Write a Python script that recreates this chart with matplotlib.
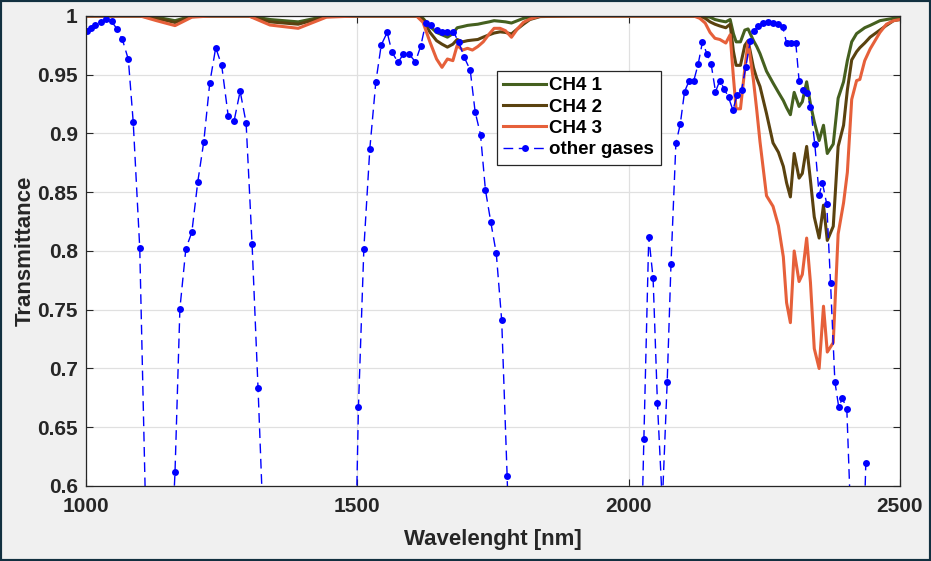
import matplotlib
matplotlib.use("Agg")
import matplotlib.pyplot as plt
from matplotlib.patches import Rectangle

# CH4 transmittance curves (shared wavelength grid, nm)
ch4_wl = [1000, 1100, 1130, 1164, 1195, 1230, 1300, 1339, 1391, 1443, 1500,
          1609, 1621, 1634, 1646, 1656, 1666, 1676, 1684, 1694, 1703, 1712,
          1722, 1732, 1743, 1752, 1763, 1773, 1784, 1795, 1806, 1818, 1837,
          1900, 2000, 2120, 2131, 2141, 2150, 2159, 2168, 2179, 2187, 2193,
          2198, 2206, 2214, 2220, 2230, 2236, 2242, 2254, 2266, 2276, 2285,
          2291, 2298, 2305, 2314, 2320, 2328, 2335, 2342, 2351, 2359, 2366,
          2377, 2386, 2396, 2403, 2411, 2420, 2426, 2435, 2445, 2454, 2463,
          2475, 2488, 2500]
ch4_1 = [1.0, 1.0, 0.999, 0.996, 1.0, 1.0, 1.0, 0.997, 0.995, 1.0, 1.0,
         1.0, 0.998, 0.991, 0.986, 0.984, 0.982, 0.985, 0.990, 0.991, 0.992, 0.9925,
         0.993, 0.994, 0.995, 0.996, 0.9955, 0.995, 0.994, 0.996, 0.998, 0.999, 1.0,
         1.0, 1.0, 1.0, 1.0, 0.9995, 0.999, 0.997, 0.996, 0.995, 0.997, 0.985,
         0.978, 0.978, 0.988, 0.989, 0.979, 0.974, 0.968, 0.953, 0.943, 0.935, 0.928,
         0.922, 0.916, 0.935, 0.923, 0.927, 0.944, 0.925, 0.910, 0.894, 0.907, 0.883,
         0.891, 0.930, 0.944, 0.962, 0.978, 0.985, 0.987, 0.990, 0.992, 0.994, 0.996,
         0.997, 0.998, 0.999]
ch4_2 = [1.0, 1.0, 0.998, 0.9945, 0.9995, 1.0, 1.0, 0.995, 0.993, 0.9995, 1.0,
         1.0, 0.997, 0.986, 0.979, 0.976, 0.9735, 0.976, 0.980, 0.978, 0.979, 0.9795,
         0.980, 0.982, 0.984, 0.9855, 0.9865, 0.986, 0.9847, 0.989, 0.993, 0.997, 0.9995,
         1.0, 1.0, 1.0, 1.0, 0.998, 0.995, 0.993, 0.9915, 0.990, 0.993, 0.970,
         0.958, 0.958, 0.975, 0.979, 0.956, 0.947, 0.940, 0.917, 0.892, 0.884, 0.872,
         0.858, 0.846, 0.883, 0.862, 0.866, 0.889, 0.860, 0.829, 0.811, 0.839, 0.809,
         0.821, 0.889, 0.907, 0.937, 0.9626, 0.9696, 0.973, 0.977, 0.982, 0.985, 0.988,
         0.992, 0.996, 0.997]
ch4_3 = [1.0, 1.0, 0.996, 0.9918, 0.999, 1.0, 1.0, 0.9923, 0.9895, 0.999, 1.0,
         1.0, 0.9946, 0.9776, 0.9634, 0.9563, 0.9634, 0.962, 0.975, 0.971, 0.9725, 0.971,
         0.974, 0.978, 0.9847, 0.9895, 0.9895, 0.9875, 0.9819, 0.989, 0.9946, 0.9974, 1.0,
         1.0, 1.0, 1.0, 0.998, 0.994, 0.986, 0.981, 0.980, 0.977, 0.984, 0.948,
         0.921, 0.921, 0.955, 0.978, 0.945, 0.920, 0.893, 0.847, 0.838, 0.8215, 0.795,
         0.756, 0.739, 0.800, 0.774, 0.780, 0.811, 0.773, 0.717, 0.700, 0.753, 0.714,
         0.722, 0.8145, 0.841, 0.867, 0.929, 0.945, 0.946, 0.962, 0.972, 0.979, 0.986,
         0.993, 0.996, 0.997]

# other gases (points below 0.6 are off-axis estimates)
gas_wl = [1002, 1009, 1017, 1027, 1037, 1047, 1057, 1067, 1078, 1087, 1099,
          1110, 1121, 1131, 1142, 1153, 1164, 1173, 1184, 1195, 1206, 1217,
          1228, 1239, 1250, 1262, 1273, 1284, 1295, 1306, 1317, 1328, 1339,
          1360, 1400, 1440, 1470, 1491, 1502, 1512, 1523, 1534, 1544, 1555,
          1564, 1575, 1585, 1595, 1607, 1617, 1626, 1635, 1646, 1656, 1666,
          1677, 1687, 1697, 1708, 1717, 1727, 1736, 1746, 1756, 1766, 1776,
          1786, 1800, 1850, 1900, 1950, 2000, 2019, 2028, 2037, 2045, 2053,
          2062, 2071, 2078, 2087, 2095, 2103, 2111, 2120, 2128, 2136, 2144,
          2152, 2160, 2168, 2176, 2184, 2192, 2200, 2208, 2216, 2224, 2231,
          2239, 2248, 2257, 2266, 2275, 2284, 2291, 2300, 2308, 2314, 2322,
          2328, 2335, 2343, 2351, 2357, 2365, 2372, 2380, 2387, 2394, 2402,
          2409, 2418, 2427, 2437]
gas_tr = [0.9875, 0.990, 0.992, 0.995, 0.9975, 0.9955, 0.989, 0.980, 0.963, 0.9095, 0.8025,
          0.575, 0.40, 0.30, 0.35, 0.50, 0.612, 0.751, 0.802, 0.816, 0.859, 0.893,
          0.943, 0.973, 0.958, 0.915, 0.911, 0.936, 0.909, 0.806, 0.683, 0.55, 0.40,
          0.25, 0.10, 0.15, 0.30, 0.41, 0.667, 0.802, 0.887, 0.9436, 0.9753, 0.986,
          0.969, 0.9606, 0.9677, 0.9677, 0.961, 0.9747, 0.994, 0.9923, 0.988, 0.9866, 0.9866,
          0.9866, 0.9776, 0.9648, 0.954, 0.9186, 0.899, 0.852, 0.8244, 0.798, 0.741, 0.6088,
          0.45, 0.30, 0.10, 0.05, 0.10, 0.30, 0.46, 0.64, 0.8122, 0.7768, 0.6706,
          0.585, 0.6888, 0.789, 0.8916, 0.9078, 0.9356, 0.9444, 0.945, 0.9589, 0.978, 0.968,
          0.959, 0.9356, 0.945, 0.938, 0.9308, 0.920, 0.9328, 0.937, 0.957, 0.9785, 0.987,
          0.9917, 0.994, 0.9946, 0.994, 0.9932, 0.9904, 0.977, 0.977, 0.977, 0.945, 0.9373,
          0.9345, 0.9228, 0.891, 0.8477, 0.858, 0.840, 0.7728, 0.6888, 0.6675, 0.6746, 0.6655,
          0.575, 0.40, 0.45, 0.6196]

xticks = [1000, 1500, 2000, 2500]
yticks = [0.6, 0.65, 0.7, 0.75, 0.8, 0.85, 0.9, 0.95, 1.0]
ytick_labels = ["0.6", "0.65", "0.7", "0.75", "0.8", "0.85", "0.9", "0.95", "1"]

plt.rcParams["font.family"] = ["Liberation Sans", "DejaVu Sans"]
plt.rcParams["font.weight"] = "bold"

fig = plt.figure(figsize=(9.31, 5.61), dpi=100, facecolor="#f0f0f0")
ax = fig.add_axes([0.0924, 0.1337, 0.8743, 0.8378])
ax.set_facecolor("white")

ax.plot(ch4_wl, ch4_1, color="#45601f", lw=2.2, label="CH4 1")
ax.plot(ch4_wl, ch4_2, color="#5a420f", lw=2.2, label="CH4 2")
ax.plot(ch4_wl, ch4_3, color="#e6603a", lw=2.2, label="CH4 3")
ax.plot(gas_wl, gas_tr, color="#0000ff", lw=1.0, dashes=(7, 4),
        marker="o", ms=5, mec="none", label="other gases")

ax.set_xlim(1000, 2500)
ax.set_ylim(0.6, 1.0)
ax.set_xticks(xticks)
ax.set_yticks(yticks)
ax.set_yticklabels(ytick_labels)
ax.grid(True, color="#e0e0e0", lw=0.9)
ax.set_axisbelow(True)
ax.tick_params(direction="in", length=5, width=0.8, colors="#262626",
               labelsize=15, top=True, right=True)
ax.tick_params(axis="x", pad=8)
ax.tick_params(axis="y", pad=6)
for s in ax.spines.values():
    s.set_color("#262626")
    s.set_linewidth(0.9)

ax.set_xlabel("Wavelenght [nm]", fontsize=16, fontweight="bold", color="#262626", labelpad=9)
ax.set_ylabel("Transmittance", fontsize=16, fontweight="bold", color="#262626", labelpad=1)

leg = ax.legend(loc="upper left", bbox_to_anchor=(0.5045, 0.8836), fontsize=13.5,
                frameon=True, fancybox=False, edgecolor="#262626", framealpha=1,
                handlelength=2.3, handletextpad=0.15, labelspacing=0.22,
                borderpad=0.35, borderaxespad=0, numpoints=1)
leg.get_frame().set_linewidth(0.9)
for t in leg.get_texts():
    t.set_fontweight("bold")

fig.add_artist(Rectangle((0, 0), 1, 1, transform=fig.transFigure, fill=False,
                         edgecolor="#123040", lw=3))

fig.savefig("out.png", dpi=100, facecolor=fig.get_facecolor())
